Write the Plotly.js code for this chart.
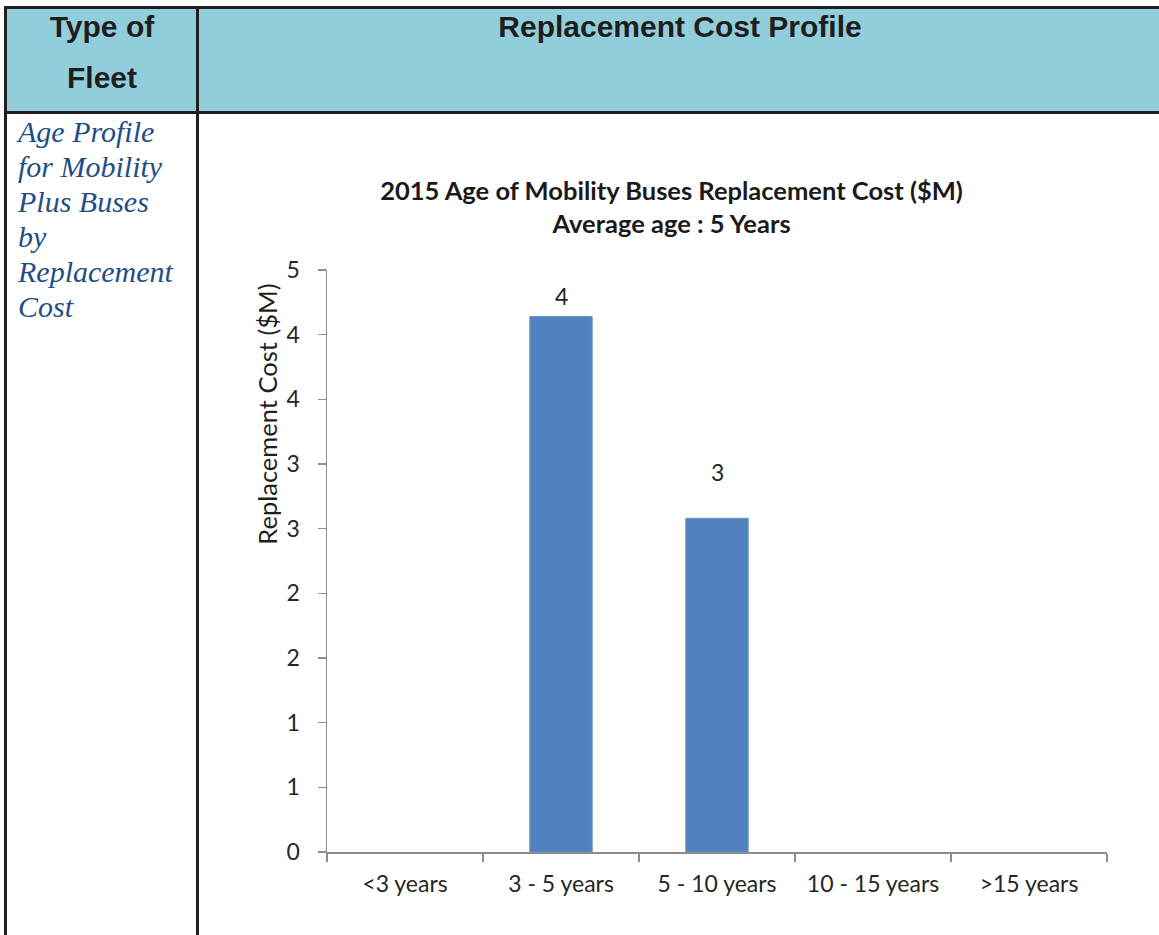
<!DOCTYPE html>
<html>
<head>
<meta charset="utf-8">
<script src="https://cdn.plot.ly/plotly-3.0.1.min.js"></script>
<style>
  html, body { margin:0; padding:0; background:#fff; width:1159px; height:935px; overflow:hidden; }
  .hdr { position:absolute; left:5px; top:6px; width:1170px; height:102px; background:#92CDDC;
         border-top:3px solid #231F20; border-bottom:3px solid #231F20; }
  .vline { position:absolute; top:6px; width:3px; height:940px; background:#231F20; }
  .htext { position:absolute; font-family:"Liberation Sans", Arial, sans-serif; font-weight:bold;
           font-size:30px; color:#1e1e1e; text-align:center; white-space:nowrap; }
  .side { position:absolute; left:18px; top:114px; font-family:"Liberation Serif", serif; font-style:italic;
          font-size:30px; line-height:35px; color:#1F4E87; }
  #chart { position:absolute; left:0; top:0; width:1159px; height:935px; }
</style>
</head>
<body>
<div class="hdr"></div>
<div class="vline" style="left:4px"></div>
<div class="vline" style="left:196px"></div>
<div class="htext" style="left:7px; width:190px; top:1px; line-height:51px;">Type of<br>Fleet</div>
<div class="htext" style="left:199px; width:962px; top:10px; line-height:34px;">Replacement Cost Profile</div>
<div class="side">Age Profile<br>for Mobility<br>Plus Buses<br>by<br>Replacement<br>Cost</div>
<div id="chart"></div>
<script>
// ---- data ----
const categories = ['<3 years', '3 - 5 years', '5 - 10 years', '10 - 15 years', '>15 years'];
const costValues = [null, 4.14, 2.58, null, null];          // $M
const costLabels = ['', '4', '3', '', ''];
const yTickVals  = [0, 0.5, 1, 1.5, 2, 2.5, 3, 3.5, 4, 4.5];
const yTickText  = ['0', '1', '1', '2', '2', '3', '3', '4', '4', '5'];
const chartTitle = '2015 Age of Mobility Buses Replacement Cost ($M)<br>Average age : 5 Years';
const yAxisTitle = 'Replacement Cost ($M)';

// ---- styling (label offsets in px) ----
const labelShift = [0, 21, 46, 0, 0];
const FONT = 'Lato, "Open Sans", sans-serif';
const axisGrey = '#8c8c8c';

const trace = {
  type: 'bar',
  x: categories,
  y: costValues,
  marker: { color: '#4F81BD', line: { color: '#6a97cc', width: 1 } },
  width: 0.4,
  hoverinfo: 'x+y',
  showlegend: false
};

const annotations = [];
categories.forEach((c, i) => {
  if (costValues[i] !== null && costLabels[i] !== '') {
    annotations.push({
      x: c, y: costValues[i], xref: 'x', yref: 'y',
      text: costLabels[i], showarrow: false,
      yanchor: 'middle', yshift: labelShift[i],
      font: { family: FONT, size: 23, color: '#262626' }
    });
  }
});
annotations.push({
  xref: 'paper', yref: 'paper', x: -0.077, y: 0.753,
  text: yAxisTitle, textangle: -90, showarrow: false,
  xanchor: 'center', yanchor: 'middle',
  font: { family: FONT, size: 25.5, color: '#1f1f1f' }
});

const layout = {
  width: 1159, height: 935,
  margin: { l: 327, r: 52, t: 270, b: 83, pad: 0 },
  paper_bgcolor: 'rgba(0,0,0,0)',
  plot_bgcolor: 'rgba(0,0,0,0)',
  title: {
    text: chartTitle,
    font: { family: FONT, size: 25.5, color: '#1a1a1a', weight: 'bold' },
    xref: 'container', yref: 'container',
    x: 671.5 / 1159, xanchor: 'center',
    y: 1 - 199.5 / 935, yanchor: 'middle'
  },
  xaxis: {
    type: 'category',
    range: [-0.5, 4.5],
    showline: true, linecolor: axisGrey, linewidth: 1.5,
    ticks: 'outside', tickson: 'boundaries', ticklen: 8, tickcolor: axisGrey, tickwidth: 1.5,
    showgrid: false, zeroline: false,
    tickfont: { family: FONT, size: 23, color: '#262626' },
    ticklabelstandoff: 11,
    fixedrange: true
  },
  yaxis: {
    range: [0, 4.5],
    tickmode: 'array', tickvals: yTickVals, ticktext: yTickText,
    showline: true, linecolor: axisGrey, linewidth: 1.5,
    ticks: 'outside', ticklen: 8, tickcolor: axisGrey, tickwidth: 1.5,
    showgrid: false, zeroline: false,
    tickfont: { family: FONT, size: 23, color: '#262626' },
    ticklabelstandoff: 13,
    fixedrange: true
  },
  bargap: 0.6,
  annotations: annotations
};

Plotly.newPlot('chart', [trace], layout, { displayModeBar: false, staticPlot: true });
</script>
</body>
</html>
